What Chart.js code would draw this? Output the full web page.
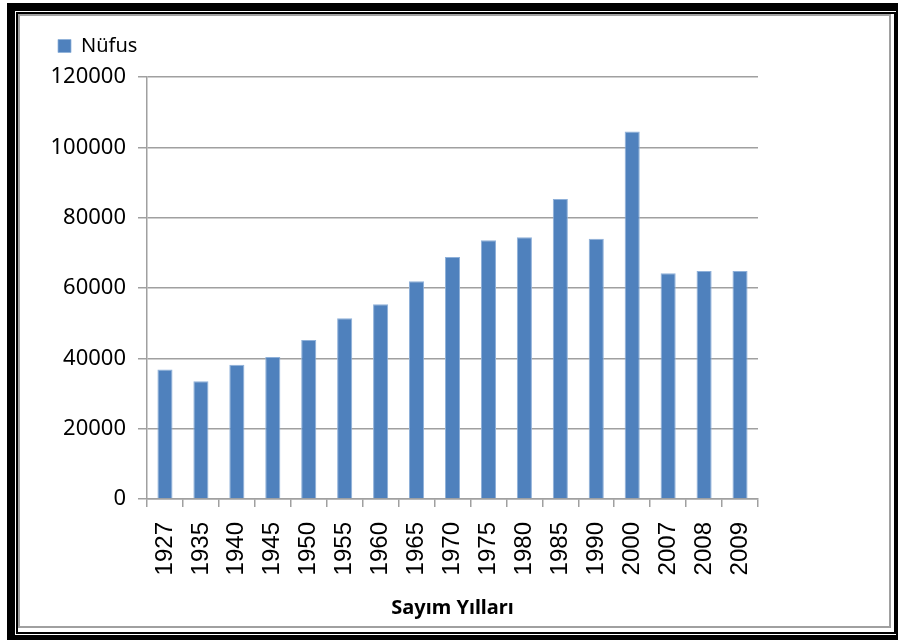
<!DOCTYPE html>
<html>
<head>
<meta charset="utf-8">
<script src="https://cdn.jsdelivr.net/npm/chart.js@4/dist/chart.umd.min.js"></script>
<style>
  html, body { margin: 0; padding: 0; background: #fff; }
  body { width: 898px; height: 640px; position: relative; overflow: hidden; }
  .outer { position: absolute; left: 7px; top: 3px; width: 891px; height: 637px; background: #000; }
  .gap { position: absolute; left: 15px; top: 11px; width: 881px; height: 624px; background: #fff; }
  .inner { position: absolute; left: 16px; top: 12px; width: 876px; height: 618px; border: 2px solid #000; background: #fff; }
  .gray { position: absolute; left: 18px; top: 14px; width: 873px; height: 614px; border: 2px solid #a0a0a0; background: #fff; box-sizing: border-box; }
  .wrap { position: absolute; left: 22px; top: 16px; width: 870px; height: 612px; }
</style>
</head>
<body>
<div class="outer"></div>
<div class="gap"></div>
<div class="inner"></div>
<div class="gray"></div>
<div class="wrap"><canvas id="chart"></canvas></div>
<script>
const years = ['1927', '1935', '1940', '1945', '1950', '1955', '1960', '1965', '1970',
  '1975', '1980', '1985', '1990', '2000', '2007', '2008', '2009'];
const nufus = [36800, 33500, 38200, 40400, 45200, 51400, 55400, 61900, 68800,
  73600, 74400, 85300, 74000, 104500, 64200, 64800, 64800];
const yTicks = [0, 20000, 40000, 60000, 80000, 100000, 120000];

// Excel bırakıyor lejant ile grafik arasında daha fazla boşluk
const legendGap = {
  id: 'legendGap',
  afterInit(chart) {
    const fit = chart.legend.fit;
    chart.legend.fit = function () {
      fit.call(this);
      this.height += 11;
    };
  }
};

const ctx = document.getElementById('chart').getContext('2d');
new Chart(ctx, {
  type: 'bar',
  data: {
    labels: years,
    datasets: [{
      label: 'Nüfus',
      data: nufus,
      backgroundColor: '#4f81bd',
      borderColor: '#8eb0d9',
      borderWidth: { top: 1, left: 1, right: 1, bottom: 0 },
      barPercentage: 0.42,
      categoryPercentage: 1.0
    }]
  },
  plugins: [legendGap],
  options: {
    responsive: true,
    maintainAspectRatio: false,
    animation: false,
    layout: { padding: { left: 26, right: 134, top: 10, bottom: 4 } },
    plugins: {
      legend: {
        position: 'top',
        align: 'start',
        labels: {
          boxWidth: 13,
          boxHeight: 13,
          padding: 10,
          color: '#000',
          font: { family: 'Noto Sans', size: 20 }
        }
      },
      tooltip: { enabled: false }
    },
    scales: {
      x: {
        grid: {
          display: true,
          drawOnChartArea: false,
          drawTicks: true,
          tickLength: 8,
          color: '#a0a0a0',
          lineWidth: 1.5
        },
        border: { display: true, color: '#a0a0a0', width: 1.5 },
        ticks: {
          minRotation: 90,
          maxRotation: 90,
          padding: 15,
          color: '#000',
          font: { family: 'Liberation Sans', size: 24 }
        },
        title: {
          display: true,
          text: 'Sayım Yılları',
          color: '#000',
          font: { family: 'Noto Sans', size: 20, weight: 'bold' },
          padding: { top: 4, bottom: 4 }
        },
        afterFit: s => { s.height = 125; }
      },
      y: {
        min: 0,
        max: 120000,
        afterBuildTicks: s => { s.ticks = yTicks.map(v => ({ value: v })); },
        grid: {
          color: '#a0a0a0',
          lineWidth: 1.5,
          drawTicks: true,
          tickLength: 9
        },
        border: { display: true, color: '#a0a0a0', width: 1.5 },
        ticks: {
          padding: 12,
          color: '#000',
          font: { family: 'Noto Sans', size: 22 },
          callback: v => String(v)
        },
        afterFit: s => { s.width = 99; }
      }
    }
  }
});
</script>
</body>
</html>
